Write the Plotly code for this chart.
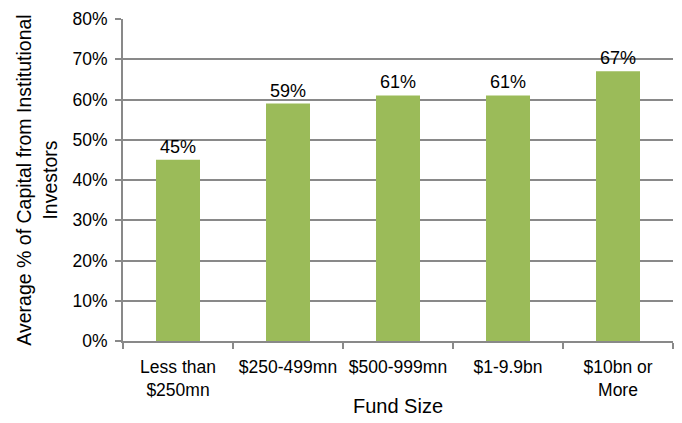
import plotly.graph_objects as go

categories = ["Less than<br>$250mn", "$250-499mn", "$500-999mn", "$1-9.9bn", "$10bn or<br>More"]
values = [45, 59, 61, 61, 67]
labels = ["45%", "59%", "61%", "61%", "67%"]
y_ticks = [0, 10, 20, 30, 40, 50, 60, 70, 80]
y_tick_labels = ["0%", "10%", "20%", "30%", "40%", "50%", "60%", "70%", "80%"]

fig = go.Figure(go.Bar(
    x=categories, y=values, text=labels, textposition="outside",
    marker=dict(color="#9BBB59", line=dict(width=0)),
    textfont=dict(size=18, color="#000000"),
    cliponaxis=False, width=0.40,
))

fig.update_layout(
    width=682, height=423,
    margin=dict(l=123, r=9, t=18, b=81),
    paper_bgcolor="white", plot_bgcolor="white",
    font=dict(family="Liberation Sans, Arial, sans-serif", color="#000000"),
    showlegend=False,
    xaxis=dict(
        showline=True, linecolor="#898989", linewidth=2,
        ticks="outside", tickson="boundaries", ticklen=6, tickcolor="#898989", tickwidth=2,
        tickangle=0, tickfont=dict(size=17.5), ticklabelstandoff=9,
        title=dict(text="Fund Size", font=dict(size=20), standoff=0),
    ),
    yaxis=dict(
        range=[0, 80], tickvals=y_ticks, ticktext=y_tick_labels,
        showline=True, linecolor="#898989", linewidth=2,
        showgrid=True, gridcolor="#898989", gridwidth=2,
        ticks="outside", ticklen=6, tickcolor="#898989", tickwidth=2,
        ticklabelstandoff=4,
        tickfont=dict(size=17.5), zeroline=False,
        title=dict(text="Average % of Capital from Institutional<br>Investors", font=dict(size=19.5), standoff=10),
    ),
)

fig.write_html("out.html")
